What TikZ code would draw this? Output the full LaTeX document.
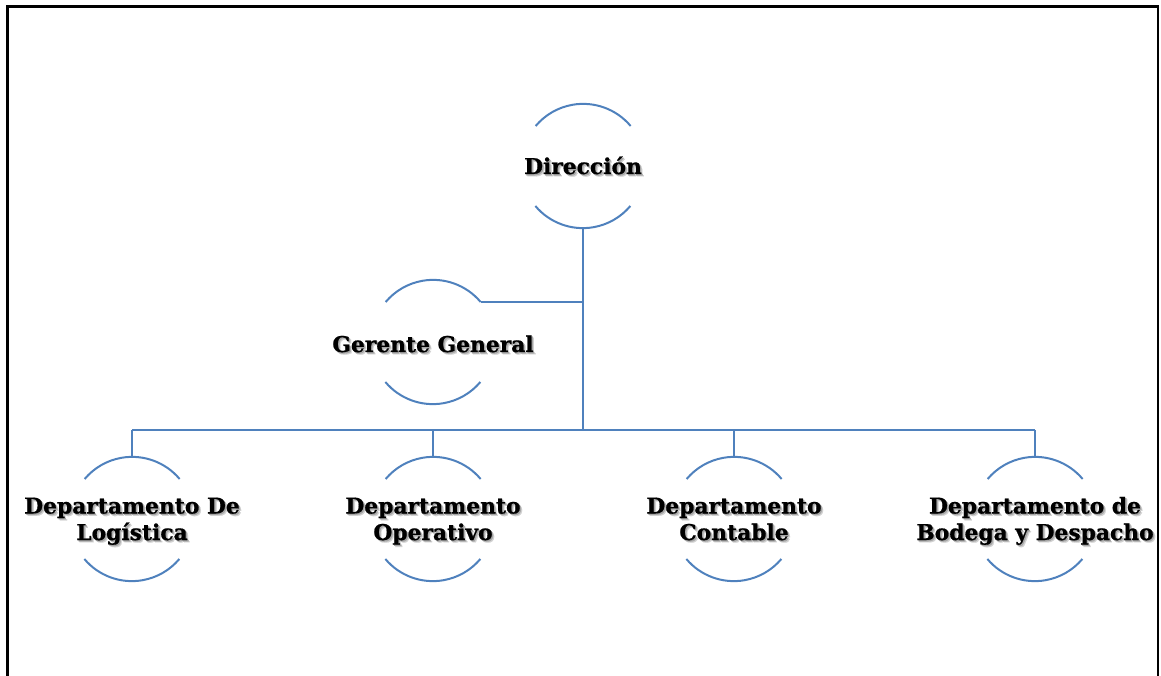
\documentclass[tikz,border=0pt]{standalone}
\usepackage{fontspec}
\setmainfont{DejaVu Serif}[BoldFeatures={FakeBold=0.8}]
\usetikzlibrary{calc}
\definecolor{ringblue}{RGB}{79,129,189}
\newcommand{\stk}[1]{\begin{tabular}[b]{@{}c@{}}#1\end{tabular}}
\newcommand{\shadowed}[1]{%
  \makebox[0pt][l]{\hspace{2.4pt}\raisebox{-2.4pt}{\color{black!18}\stk{#1}}}%
  \makebox[0pt][l]{\hspace{1.3pt}\raisebox{-1.3pt}{\color{black!35}\stk{#1}}}%
  \stk{#1}}
\tikzset{
  ring/.style={circle, draw=none, minimum size=124pt, inner sep=0pt},
  arcline/.style={draw=ringblue, line width=2pt},
  conn/.style={draw=ringblue, line width=2pt},
  lbl/.style={anchor=base, font=\bfseries\fontsize{21.8}{26.5}\selectfont, text=black, inner sep=0pt},
  frame/.style={draw=black, line width=2.4pt}
}
\newcommand{\ringarcs}[1]{%
  \draw[arcline] (#1.40) arc[start angle=40, end angle=140, radius=62];
  \draw[arcline] (#1.220) arc[start angle=220, end angle=320, radius=62];}
\begin{document}
\begin{tikzpicture}[x=1pt,y=1pt]
\useasboundingbox (0,0) rectangle (1161,675);
\draw[frame] (7.5,-5) -- (7.5,668.5) -- (1158,668.5) -- (1158,-5);
% rings
\node[ring] (dir) at (583,509) {};
\node[ring] (gen) at (433,333) {};
\node[ring] (log) at (132,156) {};
\node[ring] (ope) at (433,156) {};
\node[ring] (con) at (734,156) {};
\node[ring] (bod) at (1035,156) {};
\ringarcs{dir}
\ringarcs{gen}
\ringarcs{log}
\ringarcs{ope}
\ringarcs{con}
\ringarcs{bod}
% connectors
\coordinate (busmid) at (583,245);
\coordinate (busL) at (132,245);
\coordinate (busR) at (1035,245);
\draw[conn] (dir.south) -- (busmid);
\draw[conn] (gen.40) -- (gen.40 -| dir.south);
\draw[conn] (busL) -- (busR);
\draw[conn] (log.north |- busL) -- (log.north);
\draw[conn] (ope.north |- busL) -- (ope.north);
\draw[conn] (con.north |- busL) -- (con.north);
\draw[conn] (bod.north |- busL) -- (bod.north);
% labels (placed by baseline of last line)
\node[lbl] (tdir) at ($(dir.center)+(0,-8)$) {\shadowed{Dirección}};
\node[lbl] (tgen) at ($(gen.center)+(0,-10)$) {\shadowed{Gerente General}};
\node[lbl] (tlog) at ($(log.center)+(0,-21)$) {\shadowed{Departamento De\\Logística}};
\node[lbl] (tope) at ($(ope.center)+(0,-21)$) {\shadowed{Departamento\\Operativo}};
\node[lbl] (tcon) at ($(con.center)+(0,-21)$) {\shadowed{Departamento\\Contable}};
\node[lbl] (tbod) at ($(bod.center)+(0,-21)$) {\shadowed{Departamento de\\Bodega y Despacho}};
\end{tikzpicture}
\end{document}
